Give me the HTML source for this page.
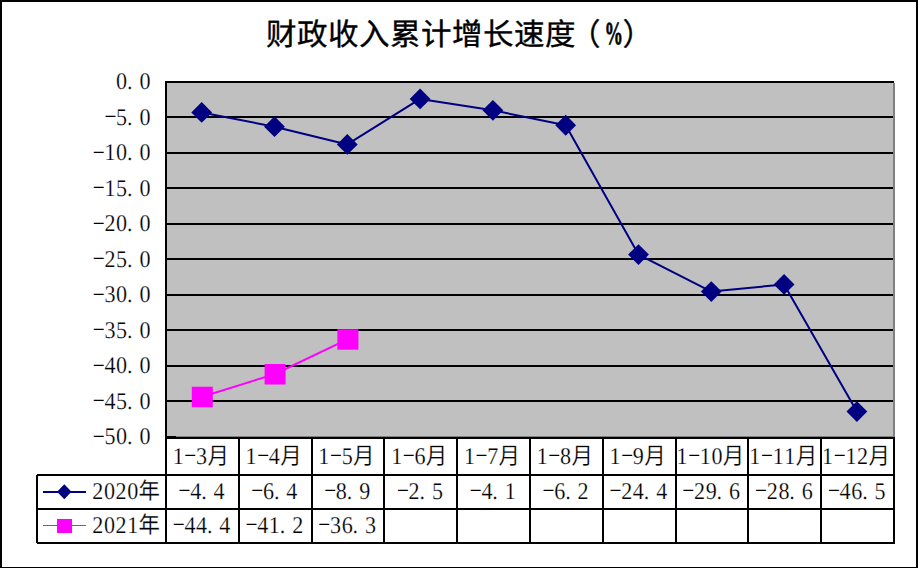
<!DOCTYPE html>
<html lang="zh-CN"><head><meta charset="utf-8"><title>财政收入累计增长速度（%）</title>
<style>
html,body{margin:0;padding:0;background:#fff;}
body{width:918px;height:568px;overflow:hidden;}
svg{display:block;}
text{font-family:"Liberation Serif",serif;font-size:24.0px;fill:#000;stroke:#fff;stroke-width:0.2px;text-rendering:geometricPrecision;}
tspan.c{font-size:23.3px;font-weight:300;}
tspan.d{font-size:23px;stroke:none;}
tspan.p{font-weight:bold;}
text.t{font-size:30.5px;stroke:#000;stroke-width:0.35px;}
text.t tspan.p{font-size:32px;font-weight:bold;stroke:#000;stroke-width:0.7px;}
</style></head><body>
<svg width="918" height="568" viewBox="0 0 918 568">
<g shape-rendering="crispEdges"><rect x="0" y="0" width="918" height="568" fill="#fff"/><rect x="0" y="0" width="2" height="568" fill="#000"/><rect x="0" y="0" width="918" height="2" fill="#000"/><rect x="916" y="0" width="2" height="568" fill="#000"/><rect x="0" y="567" width="918" height="1" fill="#000"/><rect x="167" y="83" width="726" height="353" fill="#C0C0C0"/><rect x="165" y="81" width="729" height="2" fill="#000"/><rect x="167" y="116" width="726" height="2" fill="#000"/><rect x="167" y="152" width="726" height="2" fill="#000"/><rect x="167" y="187" width="726" height="2" fill="#000"/><rect x="167" y="223" width="726" height="2" fill="#000"/><rect x="167" y="258" width="726" height="2" fill="#000"/><rect x="167" y="294" width="726" height="2" fill="#000"/><rect x="167" y="329" width="726" height="2" fill="#000"/><rect x="167" y="365" width="726" height="2" fill="#000"/><rect x="167" y="400" width="726" height="2" fill="#000"/><rect x="893" y="83" width="2" height="354" fill="#808080"/><rect x="167" y="436" width="728" height="1" fill="#808080"/><rect x="167" y="436" width="9" height="1" fill="#000"/><rect x="165" y="81" width="2" height="463" fill="#000"/><rect x="165" y="437" width="730" height="2" fill="#000"/><rect x="37" y="474" width="858" height="2" fill="#000"/><rect x="37" y="508" width="858" height="2" fill="#000"/><rect x="37" y="542" width="858" height="2" fill="#000"/><rect x="36" y="475" width="2" height="68" fill="#000"/><rect x="238" y="437" width="2" height="107" fill="#000"/><rect x="311" y="437" width="2" height="107" fill="#000"/><rect x="383" y="437" width="2" height="107" fill="#000"/><rect x="456" y="437" width="2" height="107" fill="#000"/><rect x="529" y="437" width="2" height="107" fill="#000"/><rect x="602" y="437" width="2" height="107" fill="#000"/><rect x="675" y="437" width="2" height="107" fill="#000"/><rect x="747" y="437" width="2" height="107" fill="#000"/><rect x="820" y="437" width="2" height="107" fill="#000"/><rect x="893" y="437" width="2" height="107" fill="#000"/><rect x="42.6" y="490.85" width="43.3" height="1.7" fill="#000080"/><rect x="42.6" y="524.75" width="43.3" height="1.7" fill="#FF00FF"/><rect x="57" y="518.6" width="14.8" height="14.8" fill="#FF00FF"/></g>
<g><polyline points="201.70,112.46 274.50,126.67 347.30,144.43 420.10,98.95 492.90,110.32 565.70,125.25 638.50,254.58 711.30,291.53 784.10,284.42 856.90,411.62" fill="none" stroke="#000080" stroke-width="2" stroke-linejoin="round"/><path d="M201.70 102.06L212.10 112.46L201.70 122.86L191.30 112.46Z" fill="#000080"/><path d="M274.50 116.27L284.90 126.67L274.50 137.07L264.10 126.67Z" fill="#000080"/><path d="M347.30 134.03L357.70 144.43L347.30 154.83L336.90 144.43Z" fill="#000080"/><path d="M420.10 88.55L430.50 98.95L420.10 109.36L409.70 98.95Z" fill="#000080"/><path d="M492.90 99.92L503.30 110.32L492.90 120.72L482.50 110.32Z" fill="#000080"/><path d="M565.70 114.85L576.10 125.25L565.70 135.65L555.30 125.25Z" fill="#000080"/><path d="M638.50 244.18L648.90 254.58L638.50 264.98L628.10 254.58Z" fill="#000080"/><path d="M711.30 281.13L721.70 291.53L711.30 301.93L700.90 291.53Z" fill="#000080"/><path d="M784.10 274.02L794.50 284.42L784.10 294.82L773.70 284.42Z" fill="#000080"/><path d="M856.90 401.22L867.30 411.62L856.90 422.02L846.50 411.62Z" fill="#000080"/><polyline points="202.30,396.70 275.10,373.96 347.90,339.14" fill="none" stroke="#FF00FF" stroke-width="2"/><rect x="191.80" y="386.75" width="21" height="20.5" fill="#FF00FF"/><rect x="264.60" y="364.01" width="21" height="20.5" fill="#FF00FF"/><rect x="337.40" y="329.19" width="21" height="20.5" fill="#FF00FF"/><path d="M64.3 484.2L71.5 491.7L64.3 499.2L57.1 491.7Z" fill="#000080"/></g>
<g><text class="t"><tspan x="266.0 297.0 328.0 359.0 390.0 421.0 452.0 483.0 514.0 545.0" y="44.6">财政收入累计增长速度</tspan><tspan x="570.0" y="44.6">（</tspan><tspan class="p" x="604.5" y="43.800000000000004" textLength="18.5" lengthAdjust="spacingAndGlyphs">%</tspan><tspan x="622.5" y="44.6">）</tspan></text><text transform="scale(0.92 1)"><tspan x="126.23 138.10 151.55" y="89.10 89.10 89.10">0.0</tspan></text><text transform="scale(0.92 1)"><tspan class="d" x="113.53" y="124.06">−</tspan><tspan x="126.23 138.10 151.55" y="124.61 124.61 124.61">5.0</tspan></text><text transform="scale(0.92 1)"><tspan class="d" x="100.87" y="159.57">−</tspan><tspan x="113.57 126.23 138.10 151.55" y="160.12 160.12 160.12 160.12">10.0</tspan></text><text transform="scale(0.92 1)"><tspan class="d" x="100.87" y="195.08">−</tspan><tspan x="113.57 126.23 138.10 151.55" y="195.63 195.63 195.63 195.63">15.0</tspan></text><text transform="scale(0.92 1)"><tspan class="d" x="100.87" y="230.59">−</tspan><tspan x="113.57 126.23 138.10 151.55" y="231.14 231.14 231.14 231.14">20.0</tspan></text><text transform="scale(0.92 1)"><tspan class="d" x="100.87" y="266.10">−</tspan><tspan x="113.57 126.23 138.10 151.55" y="266.65 266.65 266.65 266.65">25.0</tspan></text><text transform="scale(0.92 1)"><tspan class="d" x="100.87" y="301.61">−</tspan><tspan x="113.57 126.23 138.10 151.55" y="302.16 302.16 302.16 302.16">30.0</tspan></text><text transform="scale(0.92 1)"><tspan class="d" x="100.87" y="337.12">−</tspan><tspan x="113.57 126.23 138.10 151.55" y="337.67 337.67 337.67 337.67">35.0</tspan></text><text transform="scale(0.92 1)"><tspan class="d" x="100.87" y="372.63">−</tspan><tspan x="113.57 126.23 138.10 151.55" y="373.18 373.18 373.18 373.18">40.0</tspan></text><text transform="scale(0.92 1)"><tspan class="d" x="100.87" y="408.14">−</tspan><tspan x="113.57 126.23 138.10 151.55" y="408.69 408.69 408.69 408.69">45.0</tspan></text><text transform="scale(0.92 1)"><tspan class="d" x="100.87" y="443.65">−</tspan><tspan x="113.57 126.23 138.10 151.55" y="444.20 444.20 444.20 444.20">50.0</tspan></text><text transform="scale(0.92 1)"><tspan x="187.78" y="464.10">1</tspan><tspan class="d" x="200.41" y="462.65">−</tspan><tspan x="213.10" y="464.10">3</tspan><tspan class="c" x="225.46" y="464.10">月</tspan></text><text transform="scale(0.92 1)"><tspan x="266.91" y="464.10">1</tspan><tspan class="d" x="279.54" y="462.65">−</tspan><tspan x="292.23" y="464.10">4</tspan><tspan class="c" x="304.59" y="464.10">月</tspan></text><text transform="scale(0.92 1)"><tspan x="346.04" y="464.10">1</tspan><tspan class="d" x="358.67" y="462.65">−</tspan><tspan x="371.36" y="464.10">5</tspan><tspan class="c" x="383.72" y="464.10">月</tspan></text><text transform="scale(0.92 1)"><tspan x="425.17" y="464.10">1</tspan><tspan class="d" x="437.80" y="462.65">−</tspan><tspan x="450.49" y="464.10">6</tspan><tspan class="c" x="462.85" y="464.10">月</tspan></text><text transform="scale(0.92 1)"><tspan x="504.30" y="464.10">1</tspan><tspan class="d" x="516.93" y="462.65">−</tspan><tspan x="529.62" y="464.10">7</tspan><tspan class="c" x="541.98" y="464.10">月</tspan></text><text transform="scale(0.92 1)"><tspan x="583.43" y="464.10">1</tspan><tspan class="d" x="596.06" y="462.65">−</tspan><tspan x="608.76" y="464.10">8</tspan><tspan class="c" x="621.11" y="464.10">月</tspan></text><text transform="scale(0.92 1)"><tspan x="662.56" y="464.10">1</tspan><tspan class="d" x="675.19" y="462.65">−</tspan><tspan x="687.89" y="464.10">9</tspan><tspan class="c" x="700.24" y="464.10">月</tspan></text><text transform="scale(0.92 1)"><tspan x="735.36" y="464.10">1</tspan><tspan class="d" x="747.99" y="462.65">−</tspan><tspan x="760.68 773.35" y="464.10 464.10">10</tspan><tspan class="c" x="785.71" y="464.10">月</tspan></text><text transform="scale(0.92 1)"><tspan x="814.49" y="464.10">1</tspan><tspan class="d" x="827.12" y="462.65">−</tspan><tspan x="839.82 852.48" y="464.10 464.10">11</tspan><tspan class="c" x="864.84" y="464.10">月</tspan></text><text transform="scale(0.92 1)"><tspan x="893.62" y="464.10">1</tspan><tspan class="d" x="906.25" y="462.65">−</tspan><tspan x="918.95 931.61" y="464.10 464.10">12</tspan><tspan class="c" x="943.97" y="464.10">月</tspan></text><text transform="scale(0.92 1)"><tspan x="100.30 112.97 125.63 138.29" y="498.80 498.80 498.80 498.80">2020</tspan><tspan class="c" x="150.65" y="498.80">年</tspan></text><text transform="scale(0.92 1)"><tspan x="100.30 112.97 125.63 138.29" y="532.80 532.80 532.80 532.80">2021</tspan><tspan class="c" x="150.65" y="532.80">年</tspan></text><text transform="scale(0.92 1)"><tspan class="d" x="194.08" y="498.25">−</tspan><tspan x="206.77 218.64 232.10" y="498.80 498.80 498.80">4.4</tspan></text><text transform="scale(0.92 1)"><tspan class="d" x="273.21" y="498.25">−</tspan><tspan x="285.90 297.77 311.23" y="498.80 498.80 498.80">6.4</tspan></text><text transform="scale(0.92 1)"><tspan class="d" x="352.34" y="498.25">−</tspan><tspan x="365.03 376.90 390.36" y="498.80 498.80 498.80">8.9</tspan></text><text transform="scale(0.92 1)"><tspan class="d" x="431.47" y="498.25">−</tspan><tspan x="444.16 456.03 469.49" y="498.80 498.80 498.80">2.5</tspan></text><text transform="scale(0.92 1)"><tspan class="d" x="510.60" y="498.25">−</tspan><tspan x="523.29 535.16 548.62" y="498.80 498.80 498.80">4.1</tspan></text><text transform="scale(0.92 1)"><tspan class="d" x="589.73" y="498.25">−</tspan><tspan x="602.42 614.29 627.75" y="498.80 498.80 498.80">6.2</tspan></text><text transform="scale(0.92 1)"><tspan class="d" x="662.53" y="498.25">−</tspan><tspan x="675.22 687.89 699.76 713.21" y="498.80 498.80 498.80 498.80">24.4</tspan></text><text transform="scale(0.92 1)"><tspan class="d" x="741.66" y="498.25">−</tspan><tspan x="754.35 767.02 778.89 792.34" y="498.80 498.80 498.80 498.80">29.6</tspan></text><text transform="scale(0.92 1)"><tspan class="d" x="820.79" y="498.25">−</tspan><tspan x="833.48 846.15 858.02 871.47" y="498.80 498.80 498.80 498.80">28.6</tspan></text><text transform="scale(0.92 1)"><tspan class="d" x="899.92" y="498.25">−</tspan><tspan x="912.61 925.28 937.15 950.60" y="498.80 498.80 498.80 498.80">46.5</tspan></text><text transform="scale(0.92 1)"><tspan class="d" x="187.74" y="532.15">−</tspan><tspan x="200.44 213.10 224.97 238.43" y="532.70 532.70 532.70 532.70">44.4</tspan></text><text transform="scale(0.92 1)"><tspan class="d" x="266.88" y="532.15">−</tspan><tspan x="279.57 292.23 304.10 317.56" y="532.70 532.70 532.70 532.70">41.2</tspan></text><text transform="scale(0.92 1)"><tspan class="d" x="346.01" y="532.15">−</tspan><tspan x="358.70 371.36 383.23 396.69" y="532.70 532.70 532.70 532.70">36.3</tspan></text></g>
</svg>
</body></html>
